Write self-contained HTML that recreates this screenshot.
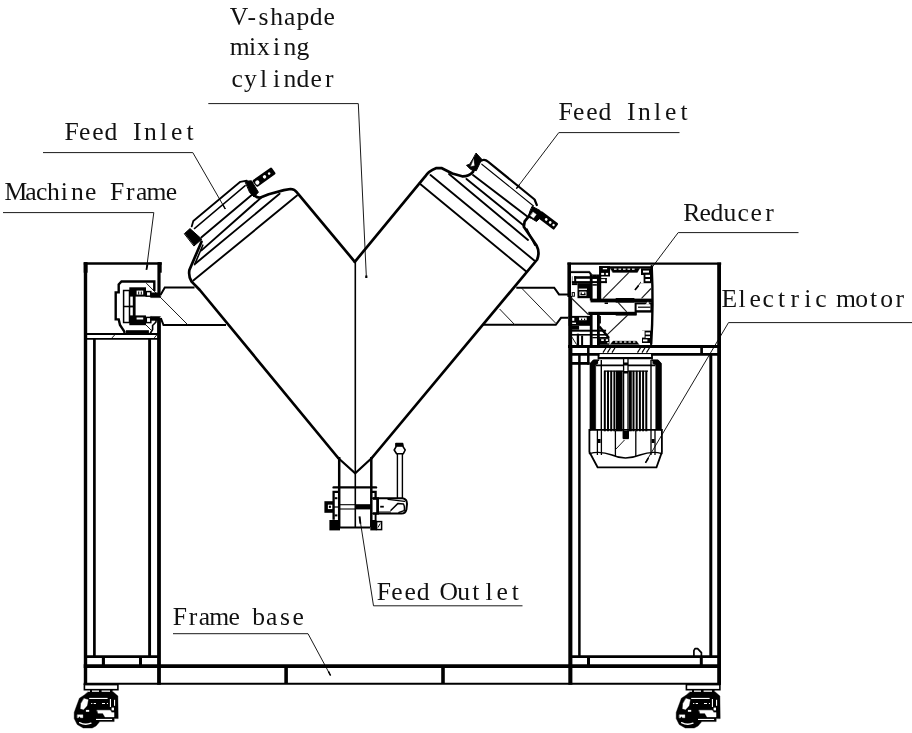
<!DOCTYPE html>
<html><head><meta charset="utf-8"><title>V-shaped mixer diagram</title>
<style>html,body{margin:0;padding:0;background:#fff}svg{display:block}</style></head>
<body>
<svg width="912" height="733" viewBox="0 0 912 733">
<rect width="912" height="733" fill="#fff"/>
<g font-family="'Liberation Serif', serif" font-size="25.6" fill="#111" style="filter:grayscale(1)">
<text x="229.8 247.5 258.5 270.2 284.1 296.5 309.7 323.5" y="24.6">V-shapde</text>
<text x="229.8 248.9 257.1 273.1 283.4 296.5" y="55.3">mixing</text>
<text x="231.5 243.9 259.9 273.1 283.4 296.5 310.4 325.0" y="86.9">cylinder</text>
<text x="64.5 79.0 92.2 104.6 121.0 133.1 144.1 160.1 171.1 186.4" y="139.8">Feed Inlet</text>
<text x="4.4 25.3 36.1 46.9 60.8 71.1 85.0 100.6 109.9 125.9 135.9 146.4 165.7" y="200.3">Machine Frame</text>
<text x="558.5 573.0 586.2 598.6 615.0 627.1 638.1 654.1 665.1 680.4" y="119.9">Feed Inlet</text>
<text x="683.2 699.5 710.5 723.6 737.5 750.6 765.2" y="220.9">Reducer</text>
<text x="721.5 738.5 749.5 762.6 777.9 790.4 804.2 815.2 830.9 836.0 855.2 870.0 880.3 895.6" y="306.9">Electric motor</text>
<text x="376.7 391.2 404.4 416.8 433.2 439.4 457.2 472.3 485.4 496.4 511.7" y="599.5">Feed Outlet</text>
<text x="172.7 188.7 198.7 209.2 228.5 242.3 252.3 266.1 280.0 292.4" y="624.9">Frame base</text>
</g>
<path d="M208.3,103.6 L358.3,103.6 L366.3,276" fill="none" stroke="#1a1a1a" stroke-width="1" stroke-linejoin="miter" stroke-linecap="butt"/>
<rect x="365.2" y="275.5" width="2.2" height="2.5" fill="#000" stroke="none" stroke-width="0"/>
<path d="M43,152.6 L192.8,152.6 L225.3,209" fill="none" stroke="#1a1a1a" stroke-width="1" stroke-linejoin="miter" stroke-linecap="butt"/>
<path d="M3,212.6 L153.8,212.6 L146.5,269" fill="none" stroke="#1a1a1a" stroke-width="1" stroke-linejoin="miter" stroke-linecap="butt"/>
<path d="M679.5,132.6 L558.8,132.6 L516.4,188.6" fill="none" stroke="#1a1a1a" stroke-width="1" stroke-linejoin="miter" stroke-linecap="butt"/>
<path d="M798.5,232.6 L678.2,232.6 L635,290" fill="none" stroke="#1a1a1a" stroke-width="1" stroke-linejoin="miter" stroke-linecap="butt"/>
<path d="M912,322.6 L728.5,322.6 L645.5,462.5" fill="none" stroke="#1a1a1a" stroke-width="1" stroke-linejoin="miter" stroke-linecap="butt"/>
<path d="M522.5,605.8 L373.5,605.8 L359.6,517" fill="none" stroke="#1a1a1a" stroke-width="1" stroke-linejoin="miter" stroke-linecap="butt"/>
<path d="M173,633.7 L308,633.7 L330.5,675.5" fill="none" stroke="#1a1a1a" stroke-width="1" stroke-linejoin="miter" stroke-linecap="butt"/>
<line x1="359.5" y1="516.3" x2="360.4" y2="523.6" stroke="#000" stroke-width="1.9" stroke-linecap="butt"/>
<line x1="146.4" y1="269.8" x2="147.4" y2="264.6" stroke="#000" stroke-width="1.8" stroke-linecap="butt"/>
<line x1="635" y1="290" x2="638.6" y2="285.4" stroke="#000" stroke-width="1.7" stroke-linecap="butt"/>
<line x1="645.5" y1="462.8" x2="648.4" y2="458" stroke="#000" stroke-width="1.6" stroke-linecap="butt"/>
<line x1="225.3" y1="209" x2="223" y2="205" stroke="#000" stroke-width="1.5" stroke-linecap="butt"/>
<line x1="516.4" y1="188.6" x2="519.2" y2="185" stroke="#000" stroke-width="1.5" stroke-linecap="butt"/>
<line x1="330.5" y1="675.5" x2="328.4" y2="671.4" stroke="#000" stroke-width="1.5" stroke-linecap="butt"/>
<line x1="83.7" y1="666.05" x2="721" y2="666.05" stroke="#000" stroke-width="3.7" stroke-linecap="butt"/>
<line x1="83.7" y1="683.8" x2="721" y2="683.8" stroke="#000" stroke-width="2" stroke-linecap="butt"/>
<line x1="286.1" y1="666" x2="286.1" y2="684" stroke="#000" stroke-width="3.6" stroke-linecap="butt"/>
<line x1="443" y1="666" x2="443" y2="684" stroke="#000" stroke-width="3.6" stroke-linecap="butt"/>
<line x1="85.5" y1="262.3" x2="85.5" y2="684.7" stroke="#000" stroke-width="3.4" stroke-linecap="butt"/>
<line x1="159" y1="262.3" x2="159" y2="295" stroke="#000" stroke-width="3.2" stroke-linecap="butt"/>
<line x1="159" y1="318" x2="159" y2="684.7" stroke="#000" stroke-width="3.8" stroke-linecap="butt"/>
<line x1="83.8" y1="263.5" x2="161.7" y2="263.5" stroke="#000" stroke-width="2.5" stroke-linecap="butt"/>
<rect x="158" y="262.3" width="3.7" height="10.4" fill="#000" stroke="none" stroke-width="0"/>
<rect x="83.7" y="262.3" width="3.9" height="10.4" fill="#000" stroke="none" stroke-width="0"/>
<line x1="84" y1="334" x2="160" y2="334" stroke="#000" stroke-width="1.9" stroke-linecap="butt"/>
<line x1="84" y1="338.9" x2="160" y2="338.9" stroke="#000" stroke-width="1.9" stroke-linecap="butt"/>
<line x1="112" y1="337.9" x2="115" y2="334.6" stroke="#1a1a1a" stroke-width="1" stroke-linecap="butt"/>
<line x1="154.3" y1="337.9" x2="157" y2="334.6" stroke="#1a1a1a" stroke-width="1" stroke-linecap="butt"/>
<line x1="94.4" y1="339" x2="94.4" y2="656" stroke="#000" stroke-width="2.7" stroke-linecap="butt"/>
<line x1="149.6" y1="339" x2="149.6" y2="656" stroke="#000" stroke-width="2.9" stroke-linecap="butt"/>
<line x1="85" y1="656.6" x2="160" y2="656.6" stroke="#000" stroke-width="2.8" stroke-linecap="butt"/>
<line x1="103.4" y1="656" x2="103.4" y2="666" stroke="#000" stroke-width="3.1" stroke-linecap="butt"/>
<line x1="140.5" y1="656" x2="140.5" y2="666" stroke="#000" stroke-width="3" stroke-linecap="butt"/>
<line x1="569.2" y1="262.5" x2="569.2" y2="297" stroke="#000" stroke-width="3.6" stroke-linecap="butt"/>
<line x1="570.2" y1="296" x2="570.2" y2="345" stroke="#000" stroke-width="3.9" stroke-linecap="butt"/>
<line x1="570.35" y1="345" x2="570.35" y2="684.7" stroke="#000" stroke-width="4.1" stroke-linecap="butt"/>
<line x1="719.1" y1="262.5" x2="719.1" y2="684.7" stroke="#000" stroke-width="3.8" stroke-linecap="butt"/>
<line x1="567.5" y1="263.6" x2="721.2" y2="263.6" stroke="#000" stroke-width="2.4" stroke-linecap="butt"/>
<line x1="568" y1="346.5" x2="721" y2="346.5" stroke="#000" stroke-width="3.0" stroke-linecap="butt"/>
<line x1="572" y1="354.3" x2="721" y2="354.3" stroke="#000" stroke-width="2.8" stroke-linecap="butt"/>
<line x1="701.6" y1="346" x2="701.6" y2="355" stroke="#000" stroke-width="2.7" stroke-linecap="butt"/>
<line x1="579.4" y1="354" x2="579.4" y2="656" stroke="#000" stroke-width="2.5" stroke-linecap="butt"/>
<line x1="710.8" y1="354" x2="710.8" y2="656" stroke="#000" stroke-width="3" stroke-linecap="butt"/>
<line x1="570" y1="656.6" x2="719" y2="656.6" stroke="#000" stroke-width="2.8" stroke-linecap="butt"/>
<line x1="588.5" y1="656" x2="588.5" y2="666" stroke="#000" stroke-width="3" stroke-linecap="butt"/>
<line x1="701.3" y1="656" x2="701.3" y2="666" stroke="#000" stroke-width="3" stroke-linecap="butt"/>
<path d="M693.9,656 L693.9,650.6 L695,648.6 L697.6,648.6 L701.4,652.6 L701.4,656" fill="none" stroke="#000" stroke-width="1.7" stroke-linejoin="round" stroke-linecap="round"/>
<path d="M338.2,458 L199.8,290 L191.6,281.6 Q188.3,277 189.4,270 L201.5,241.7" fill="none" stroke="#000" stroke-width="2.7" stroke-linejoin="round" stroke-linecap="round"/>
<path d="M194.6,264.6 L202.8,245.2" fill="none" stroke="#000" stroke-width="1.6" stroke-linejoin="round" stroke-linecap="round"/>
<path d="M253.4,193.8 Q256,198 260.5,197.6 L268.7,194.3 L283.9,190.1 L290.5,189 Q294.5,189 297.3,192.8 L354.8,261.8" fill="none" stroke="#000" stroke-width="2.7" stroke-linejoin="round" stroke-linecap="round"/>
<path d="M354.8,261.8 L425,176.7 Q428.5,171 435.9,168.2 L441.4,168 L452.3,173.5 L462.1,176.3 Q469,176.5 473,171.8 L476.3,164.2" fill="none" stroke="#000" stroke-width="2.7" stroke-linejoin="round" stroke-linecap="round"/>
<path d="M533.5,210.4 L524.7,221.3 L523.8,226.8 L536.7,245.8 Q540,252 537.2,259.5 L371.8,458" fill="none" stroke="#000" stroke-width="2.7" stroke-linejoin="round" stroke-linecap="round"/>
<path d="M526.9,228.9 L534.8,245.3" fill="none" stroke="#000" stroke-width="1.4" stroke-linejoin="round" stroke-linecap="round"/>
<path d="M338.2,458 L355.2,473.3 L371.8,458" fill="none" stroke="#000" stroke-width="2.2" stroke-linejoin="miter" stroke-linecap="round"/>
<line x1="355.3" y1="261.8" x2="355.3" y2="527" stroke="#000" stroke-width="1.6" stroke-linecap="butt"/>
<line x1="339.2" y1="457" x2="339.2" y2="487" stroke="#000" stroke-width="2.5" stroke-linecap="butt"/>
<line x1="371.3" y1="457" x2="371.3" y2="487" stroke="#000" stroke-width="2.5" stroke-linecap="butt"/>
<path d="M193.3,280.6 L297,195.5" fill="none" stroke="#000" stroke-width="1.9" stroke-linejoin="round" stroke-linecap="round"/>
<path d="M195.5,263.5 L279.6,193.8" fill="none" stroke="#000" stroke-width="1.9" stroke-linejoin="round" stroke-linecap="round"/>
<path d="M201.5,250.4 L261,197.7" fill="none" stroke="#000" stroke-width="1.9" stroke-linejoin="round" stroke-linecap="round"/>
<path d="M201.5,237.3 L252.3,194.4" fill="none" stroke="#000" stroke-width="1.9" stroke-linejoin="round" stroke-linecap="round"/>
<path d="M194.4,228.6 L245.2,185.6" fill="none" stroke="#000" stroke-width="1.4" stroke-linejoin="round" stroke-linecap="round"/>
<path d="M191.7,226.4 L193.3,221 L240.3,181.8 L246.8,180.7" fill="none" stroke="#000" stroke-width="1.8" stroke-linejoin="round" stroke-linecap="round"/>
<path d="M184.6,233.5 L190,228.6 L201.8,239.2 L194.2,245.8 Z" fill="#000" stroke="#000" stroke-width="1" stroke-linejoin="round" stroke-linecap="round"/>
<path d="M245.2,181.3 L251.5,180.8 L258.4,192.2 L254,197 L249.8,192.5 Z" fill="#000" stroke="#000" stroke-width="1" stroke-linejoin="round" stroke-linecap="round"/>
<g transform="translate(254.5,184) rotate(-35.5)"><rect x="0" y="-4.1" width="23.5" height="8.2" rx="1.5" fill="#000"/><circle cx="3.2" cy="0.4" r="2.1" fill="#fff"/><circle cx="12.3" cy="0" r="1.7" fill="#fff"/><circle cx="18" cy="0" r="1.3" fill="#fff"/></g>
<path d="M419.6,183.4 L526.3,271.6" fill="none" stroke="#000" stroke-width="1.9" stroke-linejoin="round" stroke-linecap="round"/>
<path d="M430.5,175.1 L534.3,260.5" fill="none" stroke="#000" stroke-width="1.9" stroke-linejoin="round" stroke-linecap="round"/>
<path d="M449,174 L528,240" fill="none" stroke="#000" stroke-width="1.9" stroke-linejoin="round" stroke-linecap="round"/>
<path d="M466.5,178.9 L523.7,225.5" fill="none" stroke="#000" stroke-width="1.9" stroke-linejoin="round" stroke-linecap="round"/>
<path d="M473,175.1 L528,217" fill="none" stroke="#000" stroke-width="1.9" stroke-linejoin="round" stroke-linecap="round"/>
<path d="M481.8,164.2 L533.5,206" fill="none" stroke="#000" stroke-width="1.1" stroke-linejoin="round" stroke-linecap="round"/>
<path d="M478.6,161.4 L484,159.8 Q486,159.8 488,161.6 L534.6,199.5 L536.8,205" fill="none" stroke="#000" stroke-width="2.2" stroke-linejoin="round" stroke-linecap="round"/>
<path d="M476.3,153.3 L481.8,159.3 L476.3,170.7 L470.8,169.6 L466.5,165.3 L469.7,164.2 L473,158.7 Z" fill="#000" stroke="#000" stroke-width="1" stroke-linejoin="round" stroke-linecap="round"/>
<path d="M473.6,159.6 L474.3,165.6 L471,166.2 Z" fill="#fff" stroke="#fff" stroke-width="0.3" stroke-linejoin="round" stroke-linecap="round"/>
<path d="M532.4,206.5 L540,210.5 L543,215 L536.5,221.5 L531.5,218.5 L528,217 L530,211 Z" fill="#000" stroke="#000" stroke-width="1" stroke-linejoin="round" stroke-linecap="round"/>
<g transform="translate(539,214) rotate(37)"><rect x="0" y="-3.9" width="21.5" height="7.8" rx="1.2" fill="#000"/><circle cx="9" cy="0" r="1.4" fill="#fff"/><circle cx="14" cy="0" r="1.4" fill="#fff"/><circle cx="18.2" cy="0" r="1.2" fill="#fff"/></g>
<path d="M533.2,212.2 L536.2,214.4 L533.6,218 L530.6,215.8 Z" fill="#fff" stroke="#fff" stroke-width="0.5" stroke-linejoin="round" stroke-linecap="round"/>
<path d="M160.5,294.9 L164.8,287.6 L194.5,287.6" fill="none" stroke="#000" stroke-width="2.0" stroke-linejoin="miter" stroke-linecap="butt"/>
<path d="M160.8,318.2 L163.5,325 L226,325" fill="none" stroke="#000" stroke-width="2.0" stroke-linejoin="miter" stroke-linecap="butt"/>
<line x1="146.3" y1="283.2" x2="187.5" y2="324.5" stroke="#1a1a1a" stroke-width="1" stroke-linecap="butt"/>
<path d="M516.3,287.7 L554.2,287.7 L559,294.4 L568,294.4" fill="none" stroke="#000" stroke-width="2.0" stroke-linejoin="miter" stroke-linecap="butt"/>
<path d="M483,324.8 L555.8,324.8 L561,317.8 L568,317.8" fill="none" stroke="#000" stroke-width="2.0" stroke-linejoin="miter" stroke-linecap="butt"/>
<line x1="521.5" y1="288" x2="556" y2="323.5" stroke="#1a1a1a" stroke-width="1" stroke-linecap="butt"/>
<line x1="499.6" y1="309" x2="514.8" y2="324.8" stroke="#1a1a1a" stroke-width="1" stroke-linecap="butt"/>
<path d="M154.3,291 L154.3,281.5 L121.5,281.5 L118.7,284.4 L118.7,292.4 L115.7,292.4 L115.7,319.4 L118.7,319.4 L120,325 L122.4,328.6 L124.4,331.7 L124.4,333.5" fill="none" stroke="#000" stroke-width="2.4" stroke-linejoin="miter" stroke-linecap="butt"/>
<path d="M156,318.5 L156,322 L152.6,325.5 L152.6,329.5 L150.2,333.5" fill="none" stroke="#000" stroke-width="1.6" stroke-linejoin="miter" stroke-linecap="butt"/>
<rect x="129.3" y="287.3" width="16.7" height="9.3" fill="#000" stroke="none" stroke-width="0"/>
<rect x="129.3" y="315.4" width="16.7" height="9.8" fill="#000" stroke="none" stroke-width="0"/>
<rect x="132.8" y="296" width="2.8" height="20" fill="#000" stroke="none" stroke-width="0"/>
<rect x="136.6" y="290.6" width="6.6" height="4.0" fill="#fff" stroke="none" stroke-width="0"/>
<rect x="138.2" y="291.5" width="1.0" height="3.1" fill="#000" stroke="none" stroke-width="0"/>
<rect x="140.8" y="291.5" width="1.0" height="3.1" fill="#000" stroke="none" stroke-width="0"/>
<rect x="136.6" y="317.5" width="6.6" height="2.0" fill="#fff" stroke="none" stroke-width="0"/>
<rect x="123.6" y="290.5" width="5.9" height="32.0" fill="none" stroke="#000" stroke-width="1.5"/>
<line x1="123.6" y1="306.5" x2="133" y2="306.5" stroke="#000" stroke-width="1.5" stroke-linecap="butt"/>
<line x1="129.5" y1="306.5" x2="133" y2="306.5" stroke="#000" stroke-width="1.5" stroke-linecap="butt"/>
<rect x="146.3" y="291.6" width="4.5" height="4.6" fill="#fff" stroke="#000" stroke-width="1.5"/>
<rect x="146.3" y="317.4" width="4.5" height="5.2" fill="#fff" stroke="#000" stroke-width="1.5"/>
<rect x="126" y="330.2" width="22.9" height="3.1" fill="#000" stroke="none" stroke-width="0"/>
<path d="M150.8,292.8 L157.5,292.8 L161,296 L160,297.6 L150.8,297.6 Z" fill="#000" stroke="#000" stroke-width="0.5" stroke-linejoin="round" stroke-linecap="round"/>
<path d="M150.8,316.4 L160.5,316.6 L158,320.6 L150.8,320.6 Z" fill="#000" stroke="#000" stroke-width="0.5" stroke-linejoin="round" stroke-linecap="round"/>
<line x1="146" y1="325" x2="152" y2="331" stroke="#1a1a1a" stroke-width="1" stroke-linecap="butt"/>
<line x1="333.6" y1="487.4" x2="376" y2="487.4" stroke="#000" stroke-width="2.4" stroke-linecap="round"/>
<line x1="339.2" y1="487" x2="339.2" y2="527" stroke="#000" stroke-width="2.5" stroke-linecap="butt"/>
<line x1="371.3" y1="487" x2="371.3" y2="527" stroke="#000" stroke-width="2.5" stroke-linecap="butt"/>
<path d="M339,491.8 L333.6,491.8 L333.6,519.8" fill="none" stroke="#000" stroke-width="2.3" stroke-linejoin="miter" stroke-linecap="butt"/>
<path d="M371.3,491.8 L375.6,491.8 L375.6,498" fill="none" stroke="#000" stroke-width="2.3" stroke-linejoin="miter" stroke-linecap="butt"/>
<line x1="375.6" y1="514" x2="375.6" y2="520.5" stroke="#000" stroke-width="1.9" stroke-linecap="butt"/>
<rect x="324.4" y="501.2" width="8.6" height="11.6" fill="#000" stroke="none" stroke-width="0"/>
<rect x="327.9" y="504.7" width="4.4" height="4.4" fill="#fff" stroke="none" stroke-width="0"/>
<rect x="328.9" y="505.7" width="2.0" height="2.2" fill="#000" stroke="none" stroke-width="0"/>
<rect x="334.6" y="497.2" width="2.8" height="2.0" fill="#000" stroke="none" stroke-width="0"/>
<rect x="334.6" y="514.4" width="2.8" height="2.0" fill="#000" stroke="none" stroke-width="0"/>
<rect x="355" y="504.2" width="17" height="5.2" fill="#000" stroke="none" stroke-width="0"/>
<line x1="339" y1="504.7" x2="355" y2="504.7" stroke="#000" stroke-width="1.1" stroke-linecap="butt"/>
<line x1="339" y1="509" x2="355" y2="509" stroke="#000" stroke-width="1.1" stroke-linecap="butt"/>
<line x1="333" y1="507" x2="339" y2="507" stroke="#000" stroke-width="1.2" stroke-linecap="butt"/>
<rect x="329.4" y="520" width="10.6" height="10.4" fill="#000" stroke="none" stroke-width="0"/>
<rect x="370.3" y="520" width="6.3" height="10.4" fill="#000" stroke="none" stroke-width="0"/>
<rect x="376.6" y="521.6" width="5.0" height="8.0" fill="#fff" stroke="#000" stroke-width="1.5"/>
<line x1="378" y1="527.5" x2="380.2" y2="523.5" stroke="#000" stroke-width="1" stroke-linecap="butt"/>
<line x1="340" y1="527.5" x2="370.3" y2="527.5" stroke="#000" stroke-width="2" stroke-linecap="butt"/>
<line x1="340" y1="520.6" x2="370.3" y2="520.6" stroke="#000" stroke-width="0.01" stroke-linecap="butt"/>
<path d="M373,498.3 L402.5,498.3 Q407,498.8 407,504 L406.4,509.5 Q405.4,513.6 401.5,513.6 L373,513.6" fill="none" stroke="#000" stroke-width="2" stroke-linejoin="round" stroke-linecap="round"/>
<rect x="376.2" y="497.3" width="2.8" height="17.3" fill="#000" stroke="none" stroke-width="0"/>
<rect x="373" y="497.3" width="4" height="2.5" fill="#000" stroke="none" stroke-width="0"/>
<rect x="373" y="512.4" width="4" height="2.2" fill="#000" stroke="none" stroke-width="0"/>
<path d="M388,499.4 L404.5,501.4" fill="none" stroke="#000" stroke-width="1.2" stroke-linejoin="round" stroke-linecap="round"/>
<path d="M391,510.2 L398,503.4 L403.5,504 Q405,507 404.2,510.6 L399,512.4" fill="none" stroke="#000" stroke-width="1.5" stroke-linejoin="round" stroke-linecap="round"/>
<rect x="380.2" y="505.8" width="3.6" height="1.8" fill="#000" stroke="none" stroke-width="0"/>
<line x1="379" y1="512" x2="391" y2="512" stroke="#000" stroke-width="1" stroke-linecap="butt"/>
<line x1="397.4" y1="453.5" x2="397.4" y2="498.3" stroke="#000" stroke-width="1.4" stroke-linecap="butt"/>
<line x1="402.4" y1="453.5" x2="402.4" y2="498.3" stroke="#000" stroke-width="1.4" stroke-linecap="butt"/>
<path d="M396,443.6 L402.6,443.6 L403.2,446.8 L405.2,450 L403.2,453.8 L396.6,453.8 L394.2,450 L396,446.8 Z" fill="none" stroke="#000" stroke-width="1.6" stroke-linejoin="round" stroke-linecap="round"/>
<rect x="395.6" y="443" width="7.4" height="3.8" fill="#000" stroke="none" stroke-width="0"/>
<rect x="599.4" y="354.1" width="51.8" height="3.1" fill="#fff" stroke="none" stroke-width="0"/>
<line x1="598.5" y1="354" x2="598.5" y2="359.4" stroke="#000" stroke-width="1.8" stroke-linecap="butt"/>
<line x1="652" y1="354" x2="652" y2="359.4" stroke="#000" stroke-width="1.8" stroke-linecap="butt"/>
<line x1="596" y1="365.4" x2="655.4" y2="365.4" stroke="#000" stroke-width="1.9" stroke-linecap="butt"/>
<line x1="598" y1="358.2" x2="652.5" y2="358.2" stroke="#000" stroke-width="2.2" stroke-linecap="butt"/>
<line x1="606" y1="347.7" x2="603" y2="352.6" stroke="#000" stroke-width="1.2" stroke-linecap="butt"/>
<line x1="610.5" y1="347.7" x2="607.5" y2="352.6" stroke="#000" stroke-width="1.2" stroke-linecap="butt"/>
<line x1="615" y1="347.7" x2="612" y2="352.6" stroke="#000" stroke-width="1.2" stroke-linecap="butt"/>
<line x1="640.5" y1="347.7" x2="637.5" y2="352.6" stroke="#000" stroke-width="1.2" stroke-linecap="butt"/>
<line x1="645" y1="347.7" x2="642" y2="352.6" stroke="#000" stroke-width="1.2" stroke-linecap="butt"/>
<line x1="649.5" y1="347.7" x2="646.5" y2="352.6" stroke="#000" stroke-width="1.2" stroke-linecap="butt"/>
<path d="M598.5,360.2 L594,360.2 L590.6,363.5 L590.6,430" fill="none" stroke="#000" stroke-width="1.6" stroke-linejoin="miter" stroke-linecap="round"/>
<path d="M652,360.2 L657.5,360.2 L660.8,363.5 L660.8,430" fill="none" stroke="#000" stroke-width="1.6" stroke-linejoin="miter" stroke-linecap="round"/>
<path d="M590.2,363.4 L593,360 L598,360 L598,363.5 L595.8,365 L595.8,429.7 L590.2,429.7 Z" fill="#000" stroke="#000" stroke-width="0.3" stroke-linejoin="round" stroke-linecap="round"/>
<path d="M661.2,363.4 L658.4,360 L652.6,360 L652.6,363.5 L655.6,365 L655.6,429.7 L661.2,429.7 Z" fill="#000" stroke="#000" stroke-width="0.3" stroke-linejoin="round" stroke-linecap="round"/>
<line x1="601.3" y1="360" x2="601.3" y2="430" stroke="#000" stroke-width="1.4" stroke-linecap="butt"/>
<line x1="651" y1="360" x2="651" y2="430" stroke="#000" stroke-width="1.4" stroke-linecap="butt"/>
<line x1="604.8" y1="370.8" x2="604.8" y2="431.3" stroke="#000" stroke-width="2.0" stroke-linecap="butt"/>
<line x1="608" y1="370.8" x2="608" y2="431.3" stroke="#000" stroke-width="2.0" stroke-linecap="butt"/>
<line x1="611.2" y1="370.8" x2="611.2" y2="431.3" stroke="#000" stroke-width="2.0" stroke-linecap="butt"/>
<line x1="614.4" y1="370.8" x2="614.4" y2="431.3" stroke="#000" stroke-width="2.0" stroke-linecap="butt"/>
<line x1="633.5" y1="370.8" x2="633.5" y2="431.3" stroke="#000" stroke-width="2.0" stroke-linecap="butt"/>
<line x1="636.7" y1="370.8" x2="636.7" y2="431.3" stroke="#000" stroke-width="2.0" stroke-linecap="butt"/>
<line x1="639.9" y1="370.8" x2="639.9" y2="431.3" stroke="#000" stroke-width="2.0" stroke-linecap="butt"/>
<line x1="643.1" y1="370.8" x2="643.1" y2="431.3" stroke="#000" stroke-width="2.0" stroke-linecap="butt"/>
<line x1="646.3" y1="370.8" x2="646.3" y2="431.3" stroke="#000" stroke-width="2.0" stroke-linecap="butt"/>
<line x1="604" y1="371.2" x2="648" y2="371.2" stroke="#000" stroke-width="1.2" stroke-linecap="butt"/>
<rect x="616" y="370.8" width="6.6" height="60.5" fill="#000" stroke="none" stroke-width="0"/>
<rect x="628.8" y="370.8" width="3.0" height="60.5" fill="#000" stroke="none" stroke-width="0"/>
<rect x="623.6" y="358.5" width="4.4" height="80.0" fill="#fff" stroke="#000" stroke-width="1.3"/>
<rect x="623.6" y="362.5" width="4.4" height="3.0" fill="#000" stroke="none" stroke-width="0"/>
<rect x="623.6" y="371" width="4.4" height="2.5" fill="#000" stroke="none" stroke-width="0"/>
<rect x="622.6" y="431" width="6.4" height="7.6" fill="#000" stroke="none" stroke-width="0"/>
<path d="M589.4,429.8 L589.4,452 L597.6,467.3 L656.5,467.3 L661.9,452 L661.9,429.8 Z" fill="none" stroke="#000" stroke-width="1.8" stroke-linejoin="miter" stroke-linecap="round"/>
<line x1="597.4" y1="430" x2="597.4" y2="455" stroke="#000" stroke-width="1.3" stroke-linecap="butt"/>
<line x1="601.4" y1="430" x2="601.4" y2="455" stroke="#000" stroke-width="1.3" stroke-linecap="butt"/>
<line x1="651" y1="430" x2="651" y2="455" stroke="#000" stroke-width="1.3" stroke-linecap="butt"/>
<line x1="655" y1="430" x2="655" y2="455" stroke="#000" stroke-width="1.3" stroke-linecap="butt"/>
<line x1="615.4" y1="431" x2="615.4" y2="456" stroke="#000" stroke-width="1.3" stroke-linecap="butt"/>
<line x1="635.8" y1="431" x2="635.8" y2="456" stroke="#000" stroke-width="1.3" stroke-linecap="butt"/>
<rect x="597.6" y="439" width="3.0" height="4" fill="#000" stroke="none" stroke-width="0"/>
<rect x="651.6" y="439" width="3.0" height="4" fill="#000" stroke="none" stroke-width="0"/>
<path d="M589.4,453.6 Q600,450.6 612,455 Q625,461 640,455 Q652,450.6 661.9,453.6" fill="none" stroke="#000" stroke-width="1.4" stroke-linejoin="round" stroke-linecap="round"/>
<line x1="616" y1="449" x2="624.5" y2="440" stroke="#1a1a1a" stroke-width="1" stroke-linecap="butt"/>
<line x1="599.3" y1="267.3" x2="653" y2="267.3" stroke="#000" stroke-width="2.3" stroke-linecap="butt"/>
<path d="M651.7,266.2 Q653.6,305 651.2,344" fill="none" stroke="#000" stroke-width="2.4" stroke-linejoin="round" stroke-linecap="round"/>
<rect x="599.2" y="266.2" width="2.0" height="33.6" fill="#000" stroke="none" stroke-width="0"/>
<path d="M610.2,268.2 L639.8,268.2 L637.4,272.4 L612.8,272.4 Z" fill="#000" stroke="#000" stroke-width="0.3" stroke-linejoin="round" stroke-linecap="round"/>
<rect x="614" y="268.6" width="2.6" height="1.2" fill="#fff" stroke="none" stroke-width="0"/>
<rect x="618.5" y="268.6" width="2.6" height="1.2" fill="#fff" stroke="none" stroke-width="0"/>
<rect x="623" y="268.6" width="2.6" height="1.2" fill="#fff" stroke="none" stroke-width="0"/>
<rect x="627.5" y="268.6" width="2.6" height="1.2" fill="#fff" stroke="none" stroke-width="0"/>
<rect x="632" y="268.6" width="2.6" height="1.2" fill="#fff" stroke="none" stroke-width="0"/>
<rect x="599.2" y="266.2" width="10.8" height="10.3" fill="#000" stroke="none" stroke-width="0"/>
<rect x="602.8" y="268" width="4.3" height="1.3" fill="#fff" stroke="none" stroke-width="0"/>
<rect x="601.2" y="272.9" width="2.9" height="2.0" fill="#fff" stroke="none" stroke-width="0"/>
<rect x="605.8" y="272.9" width="2.3" height="2.0" fill="#fff" stroke="none" stroke-width="0"/>
<rect x="641" y="268.3" width="10" height="14.9" fill="#000" stroke="none" stroke-width="0"/>
<rect x="643" y="270.6" width="6" height="2.0" fill="#fff" stroke="none" stroke-width="0"/>
<rect x="645.4" y="274.8" width="4.6" height="2.2" fill="#fff" stroke="none" stroke-width="0"/>
<rect x="645.4" y="279" width="4.6" height="2.2" fill="#fff" stroke="none" stroke-width="0"/>
<rect x="641" y="275" width="2.6" height="8.2" fill="#fff" stroke="none" stroke-width="0"/>
<path d="M570.9,271.2 L589.7,271.2 L592.3,274.5 L590.3,274.9 L589,272.9 L570.9,272.9 Z" fill="#000" stroke="#000" stroke-width="0.3" stroke-linejoin="round" stroke-linecap="round"/>
<rect x="574.2" y="276.2" width="26.6" height="2.6" fill="#000" stroke="none" stroke-width="0"/>
<rect x="571.9" y="281.1" width="34.9" height="2.0" fill="#000" stroke="none" stroke-width="0"/>
<rect x="600.8" y="278.1" width="6.0" height="1.0" fill="#000" stroke="none" stroke-width="0"/>
<rect x="605.2" y="278.1" width="1.6" height="5.0" fill="#000" stroke="none" stroke-width="0"/>
<rect x="574.2" y="276.2" width="2.0" height="6.9" fill="#000" stroke="none" stroke-width="0"/>
<rect x="571.9" y="276.2" width="0.5" height="6.9" fill="#000" stroke="none" stroke-width="0"/>
<rect x="577.5" y="283.1" width="12.8" height="15.1" fill="#000" stroke="none" stroke-width="0"/>
<rect x="578.8" y="288.6" width="8.2" height="1.3" fill="#fff" stroke="none" stroke-width="0"/>
<rect x="579.4" y="291.6" width="7.0" height="4.2" fill="#fff" stroke="none" stroke-width="0"/>
<rect x="580.6" y="292.4" width="1.2" height="2.6" fill="#000" stroke="none" stroke-width="0"/>
<rect x="584.2" y="292.4" width="1.2" height="2.6" fill="#000" stroke="none" stroke-width="0"/>
<rect x="580.6" y="294" width="4.8" height="1.2" fill="#000" stroke="none" stroke-width="0"/>
<rect x="589.8" y="274.5" width="2.8" height="26.0" fill="#000" stroke="none" stroke-width="0"/>
<rect x="596.9" y="274.5" width="3.3" height="26.0" fill="#000" stroke="none" stroke-width="0"/>
<rect x="592.3" y="274.5" width="4.6" height="4.3" fill="#000" stroke="none" stroke-width="0"/>
<rect x="592.3" y="284.1" width="4.6" height="1.6" fill="#000" stroke="none" stroke-width="0"/>
<rect x="599.5" y="289.7" width="1.4" height="7.2" fill="#000" stroke="none" stroke-width="0"/>
<rect x="572.2" y="292.6" width="2.2" height="3.6" fill="#fff" stroke="#000" stroke-width="1.0"/>
<rect x="571.9" y="283.1" width="5.6" height="2.0" fill="#000" stroke="none" stroke-width="0"/>
<rect x="590.5" y="298.6" width="62.5" height="3.8" fill="#000" stroke="none" stroke-width="0"/>
<rect x="615.7" y="298" width="18.7" height="4.6" fill="#000" stroke="none" stroke-width="0"/>
<rect x="604.6" y="302.4" width="3.4" height="1.6" fill="#000" stroke="none" stroke-width="0"/>
<rect x="588.3" y="311.8" width="48.3" height="3.2" fill="#000" stroke="none" stroke-width="0"/>
<rect x="615.7" y="312" width="20.9" height="3.6" fill="#000" stroke="none" stroke-width="0"/>
<rect x="634.6" y="302.4" width="17.4" height="10.2" fill="#000" stroke="none" stroke-width="0"/>
<rect x="636.6" y="304.4" width="13.8" height="5.8" fill="#fff" stroke="none" stroke-width="0"/>
<rect x="638" y="306.6" width="12.4" height="1.2" fill="#000" stroke="none" stroke-width="0"/>
<path d="M645.6,304.4 L648,301.8 L649.4,304.4 Z" fill="#fff" stroke="#fff" stroke-width="0.3" stroke-linejoin="round" stroke-linecap="round"/>
<line x1="603" y1="298.6" x2="629" y2="272.4" stroke="#1a1a1a" stroke-width="1.1" stroke-linecap="butt"/>
<line x1="618" y1="302.4" x2="626.7" y2="311.8" stroke="#1a1a1a" stroke-width="1.1" stroke-linecap="butt"/>
<line x1="627.8" y1="315" x2="607" y2="334.8" stroke="#1a1a1a" stroke-width="1.1" stroke-linecap="butt"/>
<line x1="570.8" y1="297.5" x2="588.3" y2="314.5" stroke="#1a1a1a" stroke-width="1.1" stroke-linecap="butt"/>
<line x1="641.5" y1="298.4" x2="651" y2="288.5" stroke="#1a1a1a" stroke-width="1.1" stroke-linecap="butt"/>
<rect x="568.6" y="315.9" width="21.7" height="9.9" fill="#000" stroke="none" stroke-width="0"/>
<rect x="572.2" y="317.9" width="2.1" height="2.9" fill="#fff" stroke="none" stroke-width="0"/>
<rect x="572.2" y="322.6" width="3.8" height="1.4" fill="#fff" stroke="none" stroke-width="0"/>
<rect x="579.1" y="317.5" width="7.6" height="2.7" fill="#fff" stroke="none" stroke-width="0"/>
<rect x="581" y="318.6" width="1.2" height="1.6" fill="#000" stroke="none" stroke-width="0"/>
<rect x="584" y="318.6" width="1.2" height="1.6" fill="#000" stroke="none" stroke-width="0"/>
<rect x="571.9" y="325.8" width="7.2" height="3.9" fill="#000" stroke="none" stroke-width="0"/>
<rect x="589.8" y="312.3" width="2.8" height="32.7" fill="#000" stroke="none" stroke-width="0"/>
<rect x="597" y="313.9" width="2.8" height="31.1" fill="#000" stroke="none" stroke-width="0"/>
<rect x="599.2" y="315.9" width="1.7" height="7.6" fill="#000" stroke="none" stroke-width="0"/>
<rect x="571.9" y="329.7" width="34.2" height="2.0" fill="#000" stroke="none" stroke-width="0"/>
<rect x="571.9" y="334" width="35.1" height="1.6" fill="#000" stroke="none" stroke-width="0"/>
<rect x="592.3" y="337" width="16.7" height="1.3" fill="#000" stroke="none" stroke-width="0"/>
<rect x="576.8" y="333.7" width="2.3" height="11.3" fill="#000" stroke="none" stroke-width="0"/>
<rect x="581.1" y="335.6" width="2.0" height="9.4" fill="#000" stroke="none" stroke-width="0"/>
<line x1="599.4" y1="326.6" x2="609" y2="338" stroke="#000" stroke-width="2.4" stroke-linecap="butt"/>
<rect x="598.9" y="338.2" width="10.5" height="6.6" fill="#000" stroke="none" stroke-width="0"/>
<rect x="601.2" y="339.2" width="2.6" height="1.8" fill="#fff" stroke="none" stroke-width="0"/>
<rect x="605.8" y="339.2" width="2.3" height="1.8" fill="#fff" stroke="none" stroke-width="0"/>
<rect x="607.4" y="342" width="1.4" height="1.4" fill="#fff" stroke="none" stroke-width="0"/>
<line x1="571.9" y1="337" x2="576.6" y2="344.6" stroke="#1a1a1a" stroke-width="1" stroke-linecap="butt"/>
<path d="M610.2,344.4 L613,341 L636.4,341 L639,344.4 Z" fill="#000" stroke="#000" stroke-width="0.3" stroke-linejoin="round" stroke-linecap="round"/>
<rect x="615" y="341.4" width="2.4" height="1.2" fill="#fff" stroke="none" stroke-width="0"/>
<rect x="619.5" y="341.4" width="2.4" height="1.2" fill="#fff" stroke="none" stroke-width="0"/>
<rect x="624" y="341.4" width="2.4" height="1.2" fill="#fff" stroke="none" stroke-width="0"/>
<rect x="628.5" y="341.4" width="2.4" height="1.2" fill="#fff" stroke="none" stroke-width="0"/>
<rect x="633" y="341.4" width="2.4" height="1.2" fill="#fff" stroke="none" stroke-width="0"/>
<rect x="642" y="330.6" width="10" height="12.4" fill="#000" stroke="none" stroke-width="0"/>
<rect x="645.6" y="332.4" width="4.4" height="2.2" fill="#fff" stroke="none" stroke-width="0"/>
<rect x="645.6" y="336.2" width="4.4" height="1.8" fill="#fff" stroke="none" stroke-width="0"/>
<rect x="643" y="339.4" width="4.4" height="2.0" fill="#fff" stroke="none" stroke-width="0"/>
<rect x="642" y="330.6" width="2.6" height="7.0" fill="#fff" stroke="none" stroke-width="0"/>
<rect x="572.4" y="347.6" width="26.0" height="6.4" fill="none" stroke="#000" stroke-width="0.01"/>
<line x1="588.3" y1="347.7" x2="588.3" y2="364.6" stroke="#000" stroke-width="2.5" stroke-linecap="butt"/>
<line x1="572" y1="363.4" x2="589.6" y2="363.4" stroke="#000" stroke-width="2.8" stroke-linecap="butt"/>
<g id="cst">
<rect x="84.4" y="684.6" width="33.5" height="5.1" fill="#fff" stroke="#000" stroke-width="1.6"/>
<rect x="90" y="689.6" width="2" height="2.8" fill="#000" stroke="none" stroke-width="0"/>
<rect x="99" y="689.6" width="2.6" height="2.8" fill="#000" stroke="none" stroke-width="0"/>
<rect x="110" y="689.6" width="2.6" height="2.8" fill="#000" stroke="none" stroke-width="0"/>
<path d="M88,692 L113.3,692 L117.9,696 L118.2,718.6 L114.2,718.6 L114.2,721.6 L99.8,721.6 L96,726 L92.2,728 L83.2,728 L77.2,724.5 L74.2,718.5 L74.2,712.5 L75.8,708 L79.4,698.2 L84,695.2 Z" fill="#000" stroke="#000" stroke-width="0.4" stroke-linejoin="round" stroke-linecap="round"/>
<path d="M84,698.6 L88.2,699.7 L87,705.8 L83.6,709.6 L80.6,708.8 L81,703.5 Z" fill="#fff" stroke="#fff" stroke-width="0.3" stroke-linejoin="round" stroke-linecap="round"/>
<rect x="89.2" y="697.9" width="18.4" height="1.1" fill="#fff" stroke="none" stroke-width="0"/>
<rect x="91.1" y="703" width="1.2" height="1" fill="#fff" stroke="none" stroke-width="0"/>
<rect x="93.7" y="703" width="2.3" height="1" fill="#fff" stroke="none" stroke-width="0"/>
<rect x="102" y="703" width="3" height="1" fill="#fff" stroke="none" stroke-width="0"/>
<rect x="106.9" y="703" width="1.1" height="1" fill="#fff" stroke="none" stroke-width="0"/>
<rect x="109.9" y="699" width="1.1" height="8" fill="#fff" stroke="none" stroke-width="0"/>
<rect x="114" y="699.8" width="1.1" height="6.0" fill="#fff" stroke="none" stroke-width="0"/>
<path d="M97.1,710.2 L110.2,710.2 L111.8,712.5 L114.1,712.5 L114.1,717 L105,717 L102.8,713.3 L98.2,713.3 Z" fill="#fff" stroke="#fff" stroke-width="0.3" stroke-linejoin="round" stroke-linecap="round"/>
<rect x="96" y="718.9" width="16.1" height="1.1" fill="#fff" stroke="none" stroke-width="0"/>
<path d="M77.4,714.8 L82.9,714.8 L82.9,717.8 L80.5,717.8 L79.4,716.2 L78.4,717.8 L77.4,717.8 Z" fill="#fff" stroke="#fff" stroke-width="0.3" stroke-linejoin="round" stroke-linecap="round"/>
<rect x="85.9" y="709.9" width="3.3" height="1.9" fill="#fff" stroke="none" stroke-width="0"/>
<path d="M79.6,722.6 Q85,725.6 91,723.2" fill="none" stroke="#fff" stroke-width="1.3" stroke-linejoin="round" stroke-linecap="round"/>
<rect x="111.6" y="707.6" width="2.4" height="2.8" fill="#fff" stroke="none" stroke-width="0"/>
</g>
<use href="#cst" transform="translate(602,0)"/>
</svg>
</body></html>
